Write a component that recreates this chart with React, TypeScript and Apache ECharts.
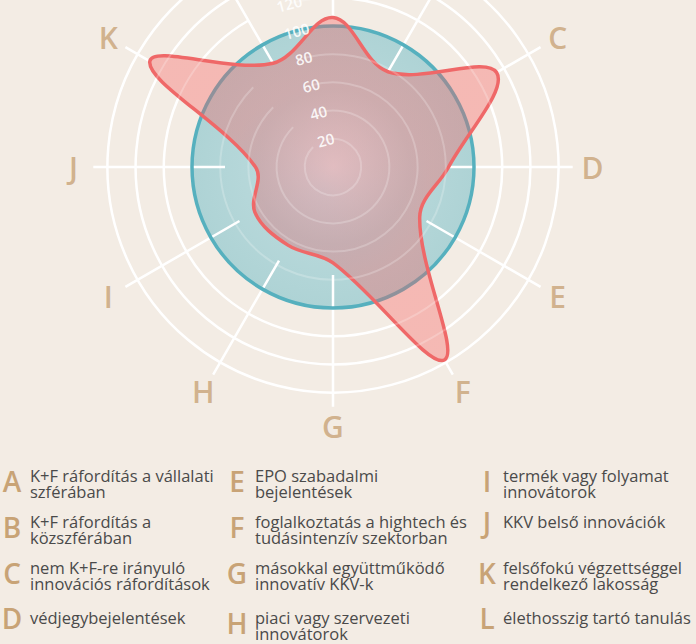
import React, { useEffect, useRef } from 'react';
import * as echarts from 'echarts';

// ---- data ----
const categories = ['A', 'B', 'C', 'D', 'E', 'F', 'G', 'H', 'I', 'J', 'K', 'L'];
const euAverage = [100, 100, 100, 100, 100, 100, 100, 100, 100, 100, 100, 100];
const countryValues = [106, 78, 134, 82, 71, 158, 68, 64, 64, 55, 150, 85];
const legendTexts = [
  'K+F ráfordítás a vállalati\nszférában',
  'K+F ráfordítás a\nközszférában',
  'nem K+F-re irányuló\ninnovációs ráfordítások',
  'védjegybejelentések',
  'EPO szabadalmi\nbejelentések',
  'foglalkoztatás a hightech és\ntudásintenzív szektorban',
  'másokkal együttműködő\ninnovatív KKV-k',
  'piaci vagy szervezeti\ninnovátorok',
  'termék vagy folyamat\ninnovátorok',
  'KKV belső innovációk',
  'felsőfokú végzettséggel\nrendelkező lakosság',
  'élethosszig tartó tanulás',
];

// ---- layout / style ----
const CX = 333;
const CY = 167;
const AXIS_MAX = 170;
const SCALE = 1.41;
const R = SCALE * AXIS_MAX;
const LETTER_R = 184;
const BG = '#f3ece4';
const TAN = '#c8a376';
const TEXT = '#4a4a4a';
const FONT = '"Open Sans", "Noto Sans", sans-serif';

function shapeRenderer(values: number[], style: any) {
  return (params: any, api: any) => {
    if (params.dataIndex !== 0) return null;
    const points = values.map((v, i) => api.coord([v, i]));
    return {
      type: 'polygon',
      shape: { points, smooth: 0.36 },
      style,
    };
  };
}

export default function App() {
  const ref = useRef<HTMLDivElement>(null);
  useEffect(() => {
    if (!ref.current) return;
    const chart = echarts.init(ref.current, null, { renderer: 'svg' });

    const ringColors = ['#fff', '#fff', '#fff', '#fff', '#fff', '#fff', '#fff', '#fff', '#fff', 'rgba(0,0,0,0)'];
    const faint = 'rgba(255,255,255,0.22)';
    const none = 'rgba(0,0,0,0)';
    const faintRings = [none, faint, faint, faint, faint, none, faint, faint, faint, none];

    // opaque composite of the EU-average disc over the background (global coords)
    const blueR = SCALE * 100;
    const edge = blueR / R;
    const discFill = () =>
      new echarts.graphic.RadialGradient(CX, CY, R, [
        { offset: 0, color: '#e8eded' },
        { offset: 0.55 * edge, color: '#b7d8da' },
        { offset: edge, color: '#aed3d5' },
        { offset: edge + 0.002, color: BG },
        { offset: 1, color: BG },
      ], true);

    const pinkFill = new echarts.graphic.RadialGradient(0.5, 0.5, 0.5, [
      { offset: 0, color: 'rgba(200,92,106,0.33)' },
      { offset: 0.6, color: 'rgba(248,90,91,0.35)' },
      { offset: 1, color: 'rgba(248,90,91,0.35)' },
    ]);

    const hidden = {
      axisLine: { show: false },
      axisTick: { show: false },
      axisLabel: { show: false },
      splitLine: { show: false },
      splitArea: { show: false },
    };

    const graphic: any[] = [];
    const rowTops = [467, 513, 559, 609];
    const colX = [30, 255, 503];
    const letterX = [12, 237, 487];
    legendTexts.forEach((t, i) => {
      const col = Math.floor(i / 4);
      const row = i % 4;
      const twoLines = t.indexOf('\n') >= 0;
      graphic.push({
        type: 'text',
        left: colX[col],
        top: rowTops[row],
        style: {
          text: t,
          fill: TEXT,
          fontSize: 16.5,
          lineHeight: 16,
          fontFamily: FONT,
        },
      });
      graphic.push({
        type: 'text',
        x: letterX[col],
        y: rowTops[row] + 8 + (twoLines ? 6 : 1),
        style: {
          text: categories[i],
          fill: TAN,
          fontSize: 28,
          fontWeight: 600,
          fontFamily: FONT,
          align: 'center',
          verticalAlign: 'middle',
        },
      });
    });

    chart.setOption({
      animation: false,
      backgroundColor: BG,
      polar: [
        { center: [CX, CY], radius: R },
        { center: [CX, CY], radius: [108, R] },
        { center: [CX, CY], radius: R },
      ],
      angleAxis: [
        { polarIndex: 0, type: 'category', data: categories, startAngle: 90, boundaryGap: false, ...hidden, z: 0 },
        {
          polarIndex: 1, type: 'category', data: categories, startAngle: 90, boundaryGap: false, ...hidden,
          splitLine: { show: true, lineStyle: { color: '#fff', width: 2.5 } }, z: 2,
        },
        { polarIndex: 2, type: 'category', data: categories, startAngle: 105, boundaryGap: false, ...hidden, z: 6 },
      ],
      radiusAxis: [
        {
          polarIndex: 0, type: 'value', min: 0, max: AXIS_MAX, interval: 20, ...hidden,
          splitLine: { show: true, lineStyle: { color: ringColors, width: 2.5 } }, z: 0,
        },
        { polarIndex: 1, type: 'value', min: 0, max: AXIS_MAX, interval: 20, ...hidden, z: 2 },
        {
          polarIndex: 2, type: 'value', min: 0, max: AXIS_MAX, interval: 20, ...hidden,
          splitLine: { show: true, lineStyle: { color: faintRings, width: 2 } },
          axisLabel: {
            show: true, showMinLabel: false, showMaxLabel: false, rotate: 15, margin: 0,
            align: 'center', verticalAlign: 'middle',
            color: 'rgba(255,255,255,0.88)', fontSize: 15, fontWeight: 600, fontFamily: FONT,
          },
          z: 6,
        },
      ],
      series: [
        {
          type: 'custom', coordinateSystem: 'polar', polarIndex: 0, silent: true, z: 1,
          data: euAverage.map((v, i) => [v, i]),
          renderItem: shapeRenderer(euAverage, { fill: discFill(), stroke: 'none' }),
        },
        {
          // hides radial lines beneath the country shape
          type: 'custom', coordinateSystem: 'polar', polarIndex: 0, silent: true, z: 3,
          data: countryValues.map((v, i) => [v, i]),
          renderItem: shapeRenderer(countryValues, { fill: discFill(), stroke: 'none' }),
        },
        {
          type: 'custom', coordinateSystem: 'polar', polarIndex: 0, silent: true, z: 4,
          data: euAverage.map((v, i) => [v, i]),
          renderItem: shapeRenderer(euAverage, { fill: 'none', stroke: '#56b0be', lineWidth: 3.5 }),
        },
        {
          type: 'custom', coordinateSystem: 'polar', polarIndex: 0, silent: true, z: 5,
          data: countryValues.map((v, i) => [v, i]),
          renderItem: shapeRenderer(countryValues, { fill: pinkFill, stroke: '#ef6868', lineWidth: 3.5 }),
        },
        {
          type: 'scatter', coordinateSystem: 'polar', polarIndex: 0, silent: true, clip: false, z: 6,
          symbolSize: 1, itemStyle: { color: 'rgba(0,0,0,0)' },
          data: categories.map((c, i) => [LETTER_R, i]),
          label: {
            show: true, position: 'inside',
            formatter: (p: any) => categories[p.dataIndex],
            color: TAN, fontSize: 30, fontWeight: 600, fontFamily: FONT,
          },
        },
      ],
      graphic,
    });
    return () => chart.dispose();
  }, []);
  return (
    <div
      ref={ref}
      style={{ position: 'absolute', left: 0, top: 0, width: 696, height: 644, background: BG }}
    />
  );
}
